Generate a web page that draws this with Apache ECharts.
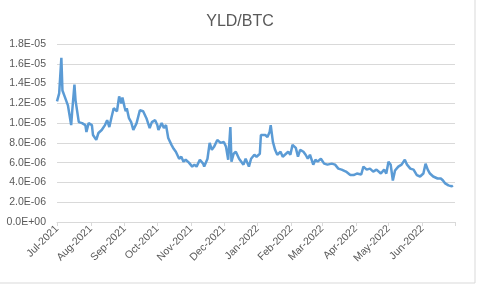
<!DOCTYPE html>
<html>
<head>
<meta charset="utf-8">
<script src="https://cdn.jsdelivr.net/npm/echarts@6/dist/echarts.min.js"></script>
<style>
html,body{margin:0;padding:0;background:#fff;}
#c{width:480px;height:285px;}
</style>
</head>
<body>
<div id="c"></div>
<script>
const title = 'YLD/BTC';
const dates = [
'2021-07-01','2021-07-03','2021-07-05','2021-07-06','2021-07-08','2021-07-09','2021-07-11','2021-07-12','2021-07-14','2021-07-15',
'2021-07-17','2021-07-18','2021-07-21','2021-07-24','2021-07-27','2021-07-28','2021-07-30','2021-08-02','2021-08-03','2021-08-06',
'2021-08-08','2021-08-11','2021-08-14','2021-08-16','2021-08-18','2021-08-20','2021-08-22','2021-08-25','2021-08-27','2021-08-29',
'2021-08-30','2021-09-01','2021-09-02','2021-09-03','2021-09-05','2021-09-07','2021-09-09','2021-09-12','2021-09-15','2021-09-18',
'2021-09-21','2021-09-24','2021-09-26','2021-09-29','2021-10-01','2021-10-02','2021-10-05','2021-10-07','2021-10-09','2021-10-11',
'2021-10-14','2021-10-16','2021-10-18','2021-10-21','2021-10-23','2021-10-25','2021-10-27','2021-10-30','2021-11-02','2021-11-04',
'2021-11-06','2021-11-09','2021-11-12','2021-11-13','2021-11-16','2021-11-18','2021-11-20','2021-11-22','2021-11-25','2021-11-28',
'2021-12-01','2021-12-03','2021-12-05','2021-12-07','2021-12-08','2021-12-10','2021-12-12','2021-12-15','2021-12-17','2021-12-19',
'2021-12-21','2021-12-24','2021-12-26','2021-12-29','2021-12-31','2022-01-03','2022-01-04','2022-01-08','2022-01-10','2022-01-12',
'2022-01-13','2022-01-15','2022-01-17','2022-01-19','2022-01-22','2022-01-24','2022-01-26','2022-01-29','2022-01-31','2022-02-02',
'2022-02-05','2022-02-07','2022-02-09','2022-02-12','2022-02-14','2022-02-16','2022-02-18','2022-02-21','2022-02-23','2022-02-25',
'2022-02-28','2022-03-03','2022-03-06','2022-03-10','2022-03-13','2022-03-16','2022-03-19','2022-03-23','2022-03-27','2022-03-30',
'2022-04-02','2022-04-06','2022-04-08','2022-04-11','2022-04-14','2022-04-17','2022-04-20','2022-04-24','2022-04-27','2022-04-29',
'2022-05-01','2022-05-03','2022-05-05','2022-05-07','2022-05-10','2022-05-13','2022-05-16','2022-05-18','2022-05-21','2022-05-24',
'2022-05-27','2022-05-30','2022-06-02','2022-06-04','2022-06-06','2022-06-08','2022-06-11','2022-06-15','2022-06-18','2022-06-20',
'2022-06-22','2022-06-25','2022-06-28','2022-06-29'
];
// values in units of 1E-06
const values = [
12.2,13.0,16.6,13.3,12.7,12.8,11.8,12.0,9.8,11.3,
13.9,12.3,10.1,10.0,9.8,9.1,10.0,9.8,8.8,8.3,
9.0,9.3,9.8,10.3,9.6,10.6,11.5,11.2,12.7,12.0,
12.6,11.6,11.2,11.5,10.5,10.1,9.3,10.0,11.3,11.2,
10.5,9.5,10.1,10.3,9.8,9.3,10.0,9.5,9.8,8.5,
7.8,7.4,7.1,6.4,6.6,6.1,6.3,6.0,5.6,5.8,
5.6,6.3,5.9,5.6,6.4,8.0,7.3,7.6,8.3,8.0,
8.1,7.6,6.3,9.6,6.1,6.9,7.1,6.4,6.1,5.8,
6.4,5.6,6.4,6.8,6.6,6.9,8.8,8.8,8.6,9.1,
9.8,8.1,7.3,6.8,7.1,6.6,6.8,7.1,6.8,7.8,
7.5,6.6,7.3,7.1,6.8,6.4,6.8,5.8,6.3,6.1,
6.4,5.9,5.8,5.9,5.8,5.4,5.3,5.1,4.75,4.75,
4.9,4.8,5.6,5.3,5.4,5.1,5.3,4.9,5.3,4.9,
6.1,5.8,4.2,5.2,5.6,5.8,6.3,5.8,5.4,5.3,
4.75,4.6,4.9,5.9,5.3,4.9,4.6,4.4,4.4,4.2,
3.9,3.7,3.6,3.7
];
const monthNames = ['Jan','Feb','Mar','Apr','May','Jun','Jul','Aug','Sep','Oct','Nov','Dec'];
const scale = 1e-6;

function fmtE(v){
  if (Math.abs(v) < 1e-12) return '0.0E+00';
  let s = v.toExponential(1).toUpperCase();
  let m = s.split('E');
  let e = parseInt(m[1],10);
  let sign = e < 0 ? '-' : '+';
  let a = Math.abs(e);
  return m[0] + 'E' + sign + (a < 10 ? '0' + a : '' + a);
}

const chart = echarts.init(document.getElementById('c'), null, {renderer:'canvas'});
const font = '"Liberation Sans", Arial, sans-serif';
const axisMax = new Date(2022,6,1).getTime();
chart.setOption({
  animation:false,
  backgroundColor:'#fff',
  title:{text:title,left:'center',top:9,textStyle:{fontFamily:font,fontSize:16,fontWeight:'normal',color:'#595959'}},
  grid:{left:57,right:25,top:44,bottom:63,containLabel:false},
  xAxis:{
    type:'time',
    min:new Date(2021,6,1).getTime(),
    max:axisMax,
    splitNumber:12,
    axisLine:{show:true,lineStyle:{color:'#D9D9D9',width:1}},
    axisTick:{show:true,length:4,lineStyle:{color:'#D9D9D9'}},
    splitLine:{show:false},
    axisLabel:{
      rotate:45,margin:5,color:'#595959',fontFamily:font,fontSize:10.5,
      hideOverlap:false,
      formatter:function(v){
        const d = new Date(v);
        if (v >= axisMax) return '';
        return monthNames[d.getMonth()] + '-' + d.getFullYear();
      }
    }
  },
  yAxis:{
    type:'value',min:0,max:18e-6,interval:2e-6,
    axisLine:{show:false},axisTick:{show:false},
    splitLine:{lineStyle:{color:'#D9D9D9',width:1}},
    axisLabel:{color:'#595959',fontFamily:font,fontSize:10.5,margin:11,formatter:fmtE}
  },
  graphic:[{type:'rect',shape:{x:-1,y:-1,width:476,height:284},style:{fill:'none',stroke:'#D9D9D9',lineWidth:1},silent:true}],
  series:[{
    type:'line',
    data:dates.map((d,i)=>[d, values[i]*scale]),
    showSymbol:false,
    lineStyle:{color:'#5B9BD5',width:2.5},
    itemStyle:{color:'#5B9BD5'}
  }]
});
</script>
</body>
</html>
